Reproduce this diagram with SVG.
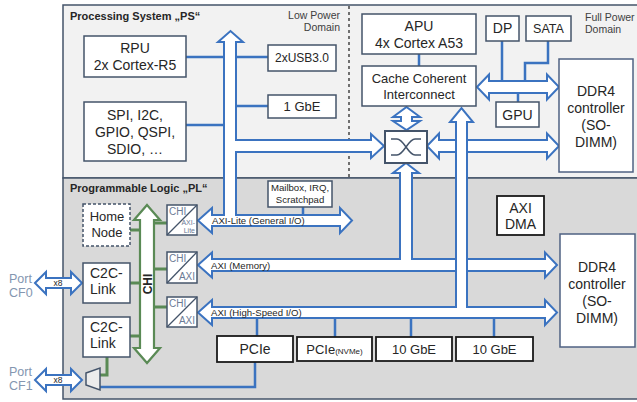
<svg xmlns="http://www.w3.org/2000/svg" width="637" height="402" viewBox="0 0 637 402">
<style>
text{font-family:"Liberation Sans",Arial,sans-serif;fill:#262626}
.box{fill:#fff;stroke:#44546a;stroke-width:1.5}
.bbox{fill:#fff;stroke:#1a1a1a;stroke-width:1.8}
.arr{fill:#fff;stroke:#3b73c0;stroke-width:2;stroke-linejoin:miter}
.gar{fill:#fff;stroke:#5a8a55;stroke-width:2.2}
.ln{fill:none;stroke:#3b73c0;stroke-width:2.5}
.gl{fill:none;stroke:#5a8a55;stroke-width:3}
.c{text-anchor:middle}
.t14{font-size:14px}
.t13{font-size:13px}
.lbl{font-size:9.6px}
.mb{font-size:9.6px}
.cv{font-size:10px;fill:#6b7b95}
.port{font-size:12.5px;fill:#8496b0}
</style>
<!-- panels -->
<rect x="63" y="5" width="575" height="173" fill="#f2f2f2" stroke="#44546a" stroke-width="1.5"/>
<rect x="63" y="178" width="575" height="221" fill="#d9d9d9" stroke="#44546a" stroke-width="1.5"/>
<line x1="349" y1="6" x2="349" y2="178" stroke="#1a1a1a" stroke-width="1.2" stroke-dasharray="3,3"/>
<text x="70" y="20" style="font-size:11px;font-weight:bold">Processing System „PS“</text>
<text x="70" y="192" style="font-size:11px;font-weight:bold">Programmable Logic „PL“</text>
<text x="340" y="19" style="font-size:10.5px;text-anchor:end;fill:#404040">Low Power</text>
<text x="340" y="31" style="font-size:10.5px;text-anchor:end;fill:#404040">Domain</text>
<text x="585" y="21" style="font-size:10.5px;fill:#404040">Full Power</text>
<text x="585" y="33" style="font-size:10.5px;fill:#404040">Domain</text>

<g id="connectors">
<path class="ln" d="M186,57H224 M186,125H224 M236,57H268 M236,106H268 M303,207V215 M502,41V81 M548,41V63H525V81 M518,93V102 M419,54V66 M257,318V337 M335,318V337 M411,318V337 M494,318V337 M255,362V387H100"/>
<path class="gl" d="M130,230H140 M130,283H140 M130,336H140 M154,223H167 M154,269H167 M154,307H167 M107,357V375H100"/>
<path class="gar" d="M147,205L160,220H154V348H160L147,363L134,348H140V220H134Z"/>
<text transform="translate(151.5,284) rotate(-90)" class="c" style="font-size:12px;font-weight:bold">CHI</text>
<path class="arr" d="M35,283L46,272V278H71V272L82,283L71,294V288H46V294Z"/>
<path class="arr" d="M35,380L46,369V375H71V369L82,380L71,391V385H46V391Z"/>
<text x="58" y="286" class="c" style="font-size:8.5px">x8</text>
<text x="58" y="383" class="c" style="font-size:8.5px">x8</text>
<path class="arr" d="M198,220.5L212,208V215H224V42H218L230.5,31L243,42H236V140H371V134L384,146L371,158V152H236V215H340V208L352,220.5L340,233V226H212V233Z"/>
<path class="arr" d="M477,87L489,74.5V81H547V74.5L559,87L547,99.5V93H489V99.5Z"/>
<path class="arr" d="M406.5,107L420,117H412V121H420L406.5,130L393,121H401V117H393Z"/>
<path class="arr" d="M427,146L439,133.5V140H547V133.5L559,146L547,158.5V152H439V158.5Z"/>
<path class="arr" d="M198,265L212,252.5V259H400V173H393L406,163L419,173H412V259H545V252.5L557,265L545,277.5V271H212V277.5Z"/>
<path class="arr" d="M198,312.5L212,300V307H456V122H450L461.5,108L473,122H467V307H545V300L557,312.5L545,325V318H212V325Z"/>
<text x="212" y="224" class="lbl">AXI-Lite (General I/O)</text>
<text x="211" y="269" class="lbl">AXI (Memory)</text>
<text x="211" y="316" class="lbl">AXI (High-Speed I/O)</text>
</g>

<g id="rpu"><rect class="box" x="84" y="36" width="102" height="41"/>
<text x="135" y="53" class="c t14">RPU</text><text x="135" y="70" class="c t14">2x Cortex-R5</text></g>
<g id="periph"><rect class="box" x="84" y="102" width="102" height="59"/>
<text x="135" y="120" class="c t14">SPI, I2C,</text><text x="135" y="137" class="c t14">GPIO, QSPI,</text><text x="135" y="154" class="c t14">SDIO, …</text></g>
<g id="usb"><rect class="box" x="268" y="45" width="68" height="26"/><text x="302" y="62" class="c" style="font-size:12px">2xUSB3.0</text></g>
<g id="gbe1"><rect class="box" x="268" y="95" width="68" height="23"/><text x="302" y="111" class="c t13">1 GbE</text></g>
<g id="apu"><rect class="box" x="362" y="14" width="114" height="40"/>
<text x="419" y="31" class="c t14">APU</text><text x="419" y="48" class="c t14">4x Cortex A53</text></g>
<g id="cci"><rect class="box" x="362" y="66" width="114" height="40"/>
<text x="419" y="83" class="c t13">Cache Coherent</text><text x="419" y="99" class="c t13">Interconnect</text></g>
<g id="dp"><rect class="box" x="486" y="16" width="33" height="25"/><text x="502.5" y="33" class="c t14">DP</text></g>
<g id="sata"><rect class="box" x="526" y="16" width="45" height="25"/><text x="548.5" y="33" class="c" style="font-size:12.5px">SATA</text></g>
<g id="gpu"><rect class="box" x="496" y="102" width="43" height="25"/><text x="517.5" y="119.5" class="c t14">GPU</text></g>
<g id="ddr4ps"><rect class="box" x="559" y="59" width="74" height="113" style="stroke:#4f6283"/>
<text x="596" y="96" class="c t14">DDR4</text><text x="596" y="113" class="c t14">controller</text><text x="596" y="130" class="c t14">(SO-</text><text x="596" y="147" class="c t14">DIMM)</text></g>
<g id="switch"><rect x="385" y="131" width="42" height="32" fill="#fff" stroke="#44546a" stroke-width="2"/>
<path d="M391,139H397C404,139 408,155 415,155H421 M391,155H397C404,155 408,139 415,139H421" fill="none" stroke="#44546a" stroke-width="1.5"/></g>
<g id="mailbox"><rect class="box" x="268" y="181" width="64" height="26"/>
<text x="300" y="191" class="c mb">Mailbox, IRQ,</text><text x="300" y="202.5" class="c mb">Scratchpad</text></g>
<g id="homenode"><rect x="83" y="204" width="47" height="42" fill="#fff" stroke="#44546a" stroke-width="1.5" stroke-dasharray="3,2"/>
<text x="107" y="221" class="c t13">Home</text><text x="107" y="237" class="c t13">Node</text></g>
<g id="c2c0"><rect class="box" x="83" y="263" width="47" height="40"/>
<text x="90" y="278" class="t14">C2C-</text><text x="90" y="294" class="t14">Link</text></g>
<g id="c2c1"><rect class="box" x="83" y="317" width="47" height="40"/>
<text x="90" y="332" class="t14">C2C-</text><text x="90" y="348" class="t14">Link</text></g>
<g id="mux"><path d="M86,373L100,368V390L86,385Z" fill="#ececec" stroke="#44546a" stroke-width="1.5"/></g>
<g id="conv1"><rect class="box" x="167" y="205" width="30" height="30"/><line x1="167" y1="235" x2="197" y2="205" stroke="#44546a" stroke-width="1.3"/>
<text x="169" y="215" class="cv">CHI</text><text x="195" y="225" class="cv" style="font-size:7px;text-anchor:end">AXI-</text><text x="195" y="233" class="cv" style="font-size:7px;text-anchor:end">Lite</text></g>
<g id="conv2"><rect class="box" x="167" y="252" width="30" height="31"/><line x1="167" y1="283" x2="197" y2="252" stroke="#44546a" stroke-width="1.3"/>
<text x="169" y="262" class="cv">CHI</text><text x="195" y="280" class="cv" style="text-anchor:end">AXI</text></g>
<g id="conv3"><rect class="box" x="167" y="297" width="30" height="30"/><line x1="167" y1="327" x2="197" y2="297" stroke="#44546a" stroke-width="1.3"/>
<text x="169" y="307" class="cv">CHI</text><text x="195" y="324" class="cv" style="text-anchor:end">AXI</text></g>
<g id="axidma"><rect class="bbox" x="497" y="196" width="47" height="39"/>
<text x="520.5" y="213" class="c t14">AXI</text><text x="520.5" y="229" class="c t14">DMA</text></g>
<g id="ddr4pl"><rect class="box" x="560" y="234" width="75" height="113" style="stroke:#4f6283"/>
<text x="597" y="272" class="c t14">DDR4</text><text x="597" y="289" class="c t14">controller</text><text x="597" y="306" class="c t14">(SO-</text><text x="597" y="323" class="c t14">DIMM)</text></g>
<g id="pcie"><rect class="bbox" x="217" y="336" width="76" height="26"/><text x="255" y="354" class="c t14">PCIe</text></g>
<g id="pcienvme"><rect class="bbox" x="297" y="337" width="75" height="24"/><text x="334.5" y="354" class="c t13">PCIe<tspan style="font-size:8px">(NVMe)</tspan></text></g>
<g id="gbe10a"><rect class="bbox" x="376" y="337" width="76" height="24"/><text x="414" y="354" class="c t13">10 GbE</text></g>
<g id="gbe10b"><rect class="bbox" x="456" y="337" width="77" height="24"/><text x="494.5" y="354" class="c t13">10 GbE</text></g>
<g id="ports"><text x="9" y="283" class="port">Port</text><text x="9" y="297" class="port">CF0</text>
<text x="9" y="376" class="port">Port</text><text x="9" y="390" class="port">CF1</text></g>
</svg>
